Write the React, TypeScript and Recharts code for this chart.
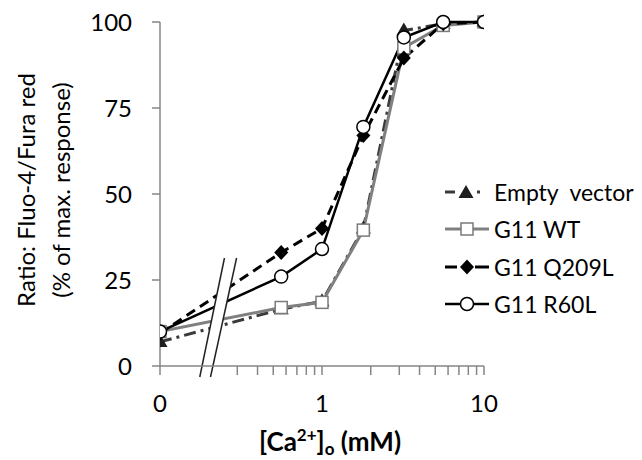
import { LineChart, Line, XAxis, YAxis, ReferenceLine } from 'recharts';

// x = extracellular Ca2+ (mM); 0.1 stands in for the 0 mM point left of the axis break
const CA_MM = [0.1, 0.56, 1, 1.8, 3.2, 5.6, 10];
const EMPTY_VECTOR = [7, 16.5, 18.8, 40, 97.5, 99.5, 100];
const G11_WT = [10, 17, 18.5, 39.5, 92.5, 99, 100];
const G11_Q209L = [9.5, 33, 40, 67, 89.5, 99.5, 100];
const G11_R60L = [10, 26, 34, 69.5, 95.5, 100, 100];

const X_TICKS = [0.1, 0.3, 0.4, 0.5, 0.6, 0.7, 0.8, 0.9, 1, 2, 3, 4, 5, 6, 7, 8, 9, 10];
const X_TICK_LABELS: Record<number, string> = { 0.1: '0', 1: '1', 10: '10' };
const Y_TICKS = [0, 25, 50, 75, 100];

const data = CA_MM.map((x, i) => ({
  x,
  empty: EMPTY_VECTOR[i],
  wt: G11_WT[i],
  q209l: G11_Q209L[i],
  r60l: G11_R60L[i],
}));

const FONT = 'Lato, "Open Sans", sans-serif';
const AXIS = '#868686';

const Triangle = ({ cx, cy }: any) =>
  cx == null ? null : (
    <path d={`M${cx},${cy - 8} L${cx + 7.5},${cy + 5} L${cx - 7.5},${cy + 5} Z`} fill="#1e1e1e" />
  );
const Square = ({ cx, cy }: any) =>
  cx == null ? null : (
    <rect x={cx - 6} y={cy - 6} width={12} height={12} fill="#fff" stroke="#7a7a7a" strokeWidth={1.5} />
  );
const Diamond = ({ cx, cy }: any) =>
  cx == null ? null : (
    <path d={`M${cx},${cy - 7.5} L${cx + 7},${cy} L${cx},${cy + 7.5} L${cx - 7},${cy} Z`} fill="#000" />
  );
const Circle = ({ cx, cy }: any) =>
  cx == null ? null : <circle cx={cx} cy={cy} r={6.5} fill="#fff" stroke="#000" strokeWidth={1.5} />;

const legendItems = [
  { name: 'Empty\u00a0 vector', icon: 'empty' },
  { name: 'G11 WT', icon: 'wt' },
  { name: 'G11 Q209L', icon: 'q209l' },
  { name: 'G11 R60L', icon: 'r60l' },
];

function LegendIcon({ kind }: { kind: string }) {
  return (
    <svg width={46} height={20} style={{ display: 'block' }}>
      {kind === 'empty' && (
        <>
          <line x1={0} y1={10} x2={10} y2={10} stroke="#3a3a3a" strokeWidth={3} />
          <line x1={32} y1={10} x2={35} y2={10} stroke="#3a3a3a" strokeWidth={3} />
          <Triangle cx={21} cy={11} />
        </>
      )}
      {kind === 'wt' && (
        <>
          <line x1={0} y1={10} x2={44} y2={10} stroke="#808080" strokeWidth={3} />
          <Square cx={22} cy={10} />
        </>
      )}
      {kind === 'q209l' && (
        <>
          <line x1={0} y1={10} x2={12} y2={10} stroke="#000" strokeWidth={3} />
          <line x1={30} y1={10} x2={44} y2={10} stroke="#000" strokeWidth={3} />
          <Diamond cx={22} cy={10} />
        </>
      )}
      {kind === 'r60l' && (
        <>
          <line x1={0} y1={10} x2={44} y2={10} stroke="#000" strokeWidth={2.5} />
          <Circle cx={22} cy={10} />
        </>
      )}
    </svg>
  );
}

const XLabel = ({ viewBox }: any) => {
  const cx = viewBox.x + viewBox.width / 2 + 8;
  return (
    <text x={cx} y={443} textAnchor="middle" fontSize={26} fontWeight="bold" fill="#000" fontFamily={FONT}>
      [Ca<tspan dy={-10} fontSize={17}>2+</tspan>
      <tspan dy={10}>]</tspan>
      <tspan dy={4} fontSize={17}>o</tspan>
      <tspan dy={-4}> (mM)</tspan>
    </text>
  );
};

const YLabel = ({ viewBox }: any) => {
  const cy = viewBox.y + viewBox.height / 2 - 4;
  return (
    <g fontSize={24} fill="#000" fontFamily={FONT}>
      <text x={17} y={cy} textAnchor="middle" dominantBaseline="central" transform={`rotate(-90 17 ${cy})`}>
        Ratio: Fluo-4/Fura red
      </text>
      <text x={52} y={cy} textAnchor="middle" dominantBaseline="central" transform={`rotate(-90 52 ${cy})`}>
        (% of max. response)
      </text>
    </g>
  );
};

export default function App() {
  return (
    <div style={{ position: 'relative', width: 634, height: 452, fontFamily: FONT }}>
      <LineChart width={634} height={452} data={data} margin={{ top: 14, right: 158, bottom: 0, left: 0 }}>
        <XAxis
          type="number"
          dataKey="x"
          scale="log"
          domain={[0.1, 10]}
          ticks={X_TICKS}
          interval={0}
          tickFormatter={(v: number) => X_TICK_LABELS[v] ?? ''}
          height={94}
          tickSize={9}
          tickMargin={20}
          stroke={AXIS}
          strokeWidth={1.5}
          tick={{ fill: '#000', fontSize: 24, fontFamily: FONT }}
          allowDataOverflow
          label={<XLabel />}
        />
        <YAxis
          domain={[0, 100]}
          ticks={Y_TICKS}
          width={152}
          tickSize={8}
          tickMargin={20}
          stroke={AXIS}
          strokeWidth={1.5}
          tick={{ fill: '#000', fontSize: 24, fontFamily: FONT }}
          label={<YLabel />}
        />
        <Line
          dataKey="empty"
          stroke="#3a3a3a"
          strokeWidth={3}
          strokeDasharray="12 5 3 5"
          dot={<Triangle />}
          activeDot={false}
          isAnimationActive={false}
        />
        <Line dataKey="wt" stroke="#808080" strokeWidth={3} dot={<Square />} activeDot={false} isAnimationActive={false} />
        <Line
          dataKey="q209l"
          stroke="#000"
          strokeWidth={3}
          strokeDasharray="10 6"
          dot={<Diamond />}
          activeDot={false}
          isAnimationActive={false}
        />
        <Line dataKey="r60l" stroke="#000" strokeWidth={2.5} dot={<Circle />} activeDot={false} isAnimationActive={false} />
        {/* axis break */}
        <ReferenceLine
          segment={[{ x: 0.272, y: 31.4 }, { x: 0.19, y: -3.2 }]}
          stroke="#fff"
          strokeWidth={11}
          ifOverflow="visible"
        />
        <ReferenceLine
          segment={[{ x: 0.25, y: 31.4 }, { x: 0.176, y: -3.2 }]}
          stroke="#222"
          strokeWidth={1.5}
          ifOverflow="visible"
        />
        <ReferenceLine
          segment={[{ x: 0.297, y: 31.4 }, { x: 0.205, y: -3.2 }]}
          stroke="#222"
          strokeWidth={1.5}
          ifOverflow="visible"
        />
      </LineChart>
      <div style={{ position: 'absolute', left: 437, top: 165 }}>
        {legendItems.map((it) => (
          <div key={it.name} style={{ display: 'flex', alignItems: 'center', height: 37.5 }}>
            <LegendIcon kind={it.icon} />
            <span style={{ fontSize: 23, marginLeft: 3, whiteSpace: 'nowrap', color: '#000' }}>{it.name}</span>
          </div>
        ))}
      </div>
    </div>
  );
}
